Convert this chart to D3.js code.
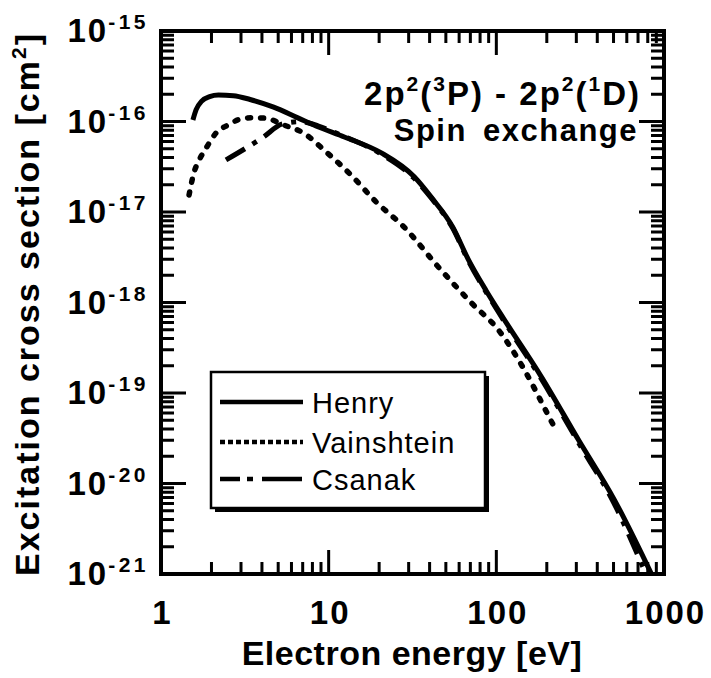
<!DOCTYPE html>
<html>
<head>
<meta charset="utf-8">
<script src="https://cdn.jsdelivr.net/npm/d3@7"></script>
<style>
  body { margin: 0; background: #fff; color: #000; }
  text { font-family: "Liberation Sans", Arial, Helvetica, sans-serif; fill: #000; }
</style>
</head>
<body>
<svg id="chart" width="711" height="678"></svg>
<script>
// values (energy in eV, cross section in cm^2)
const henryE     = [1.55, 1.62, 1.75, 1.95, 2.2, 2.7, 3.4, 4.7, 6.6, 8.7, 12.4, 20.6, 32.4, 41, 55, 68, 87, 112, 186, 310, 506, 842];
const henrySigma = [1.04e-16, 1.35e-16, 1.68e-16, 1.88e-16, 1.96e-16, 1.93e-16, 1.75e-16, 1.44e-16, 1.09e-16, 8.7e-17, 6.75e-17, 4.5e-17, 2.45e-17, 1.45e-17, 6.8e-18, 3.0e-18, 1.35e-18, 6.4e-19, 1.5e-19, 3.0e-20, 6.6e-21, 1.0e-21];

const vainE     = [1.47, 1.57, 1.69, 1.86, 2.13, 2.51, 2.92, 3.5, 4.2, 5.35, 7.04, 9.67, 13.6, 19.2, 28.2, 45.1, 71, 103, 147, 199, 219];
const vainSigma = [1.54e-17, 2.7e-17, 3.76e-17, 5.1e-17, 7.47e-17, 9.14e-17, 1.05e-16, 1.1e-16, 1.09e-16, 9.2e-17, 7.5e-17, 4.6e-17, 2.56e-17, 1.29e-17, 6.8e-18, 2.47e-18, 9.9e-19, 4.96e-19, 1.8e-19, 6.2e-20, 4.4e-20];

const csanakE     = [2.44, 3.22, 4.06, 5.3, 6.8, 8.7, 12, 20, 32, 41, 55, 68, 87, 112, 186, 310, 500, 780];
const csanakSigma = [3.76e-17, 5.1e-17, 6.7e-17, 9.4e-17, 1.0e-16, 8.9e-17, 7.0e-17, 4.5e-17, 2.4e-17, 1.42e-17, 6.6e-18, 2.9e-18, 1.3e-18, 6.1e-19, 1.42e-19, 2.8e-20, 6.2e-21, 1.0e-21];

const energyTicks = [1, 10, 100, 1000];
const sigmaExponents = [-15, -16, -17, -18, -19, -20, -21];
const legendNames = ['Henry', 'Vainshtein', 'Csanak'];

const svg = d3.select('#chart');

const x = d3.scaleLog().domain([1, 1000]).range([161, 664]);
const y = d3.scaleLog().domain([1e-21, 1e-15]).range([574, 31]);

const xMinor = [];
[1, 10, 100].forEach(d => { for (let k = 2; k <= 9; k++) xMinor.push(d * k); });
const yMinor = [];
d3.range(-21, -15).forEach(e => { for (let k = 2; k <= 9; k++) yMinor.push(k * Math.pow(10, e)); });
const yMajor = sigmaExponents.map(e => Math.pow(10, e));

const plotLeft = x.range()[0], plotRight = x.range()[1];
const plotTop = y.range()[1], plotBottom = y.range()[0];

// curves (all data lies inside the domain, no clipping needed)
const line = d3.line()
  .x(d => x(d[0]))
  .y(d => y(d[1]))
  .curve(d3.curveMonotoneX);

const plot = svg.append('g');

plot.append('path')
  .datum(d3.zip(vainE, vainSigma))
  .attr('d', line)
  .attr('fill', 'none').attr('stroke', '#000').attr('stroke-width', 5.5)
  .attr('stroke-linecap', 'round').attr('stroke-dasharray', '3,10');

plot.append('path')
  .datum(d3.zip(csanakE, csanakSigma))
  .attr('d', line)
  .attr('fill', 'none').attr('stroke', '#000').attr('stroke-width', 5)
  .attr('stroke-dasharray', '22,9,5,9');

plot.append('path')
  .datum(d3.zip(henryE, henrySigma))
  .attr('d', line)
  .attr('fill', 'none').attr('stroke', '#000').attr('stroke-width', 5)
  .attr('stroke-linejoin', 'round');

// frame
svg.append('path')
  .attr('d', `M${plotLeft},${plotTop}H${plotRight}V${plotBottom}H${plotLeft}Z`)
  .attr('fill', 'none').attr('stroke', '#000').attr('stroke-width', 4);

// inward ticks on every side, one path per group
function tickPath(vals, len, horizontal) {
  return vals.map(d => horizontal
    ? `M${x(d)},${plotBottom}v${-len}M${x(d)},${plotTop}v${len}`
    : `M${plotLeft},${y(d)}h${len}M${plotRight},${y(d)}h${-len}`).join('');
}
const tickLayer = svg.append('g');
[[xMinor, 12, true], [energyTicks, 24, true], [yMinor, 13, false], [yMajor, 25, false]]
  .forEach(([vals, len, horiz]) => {
    tickLayer.append('path')
      .attr('d', tickPath(vals, len, horiz))
      .attr('fill', 'none').attr('stroke', '#000').attr('stroke-width', 3);
  });

// tick labels
const xAxis = svg.append('g').attr('transform', `translate(0,${plotBottom})`)
  .call(d3.axisBottom(x).tickValues(energyTicks).tickSize(0).tickPadding(27).tickFormat(d => String(d)));
xAxis.select('.domain').remove();
xAxis.selectAll('text')
  .attr('font-size', 33).attr('font-weight', 'bold')
  .attr('letter-spacing', 2).attr('dx', 1);

const yAxis = svg.append('g').attr('transform', `translate(${plotLeft},0)`)
  .call(d3.axisLeft(y).tickValues(yMajor).tickSize(0).tickPadding(12).tickFormat(''));
yAxis.select('.domain').remove();
yAxis.selectAll('text')
  .attr('font-size', 33).attr('font-weight', 'bold')
  .each(function (d) {
    const t = d3.select(this);
    t.append('tspan').attr('letter-spacing', 2).text('10');
    t.append('tspan').attr('dy', -13).attr('font-size', 21).attr('letter-spacing', 3.5)
      .text(String(Math.round(Math.log10(d))));
  });

// annotation
const note = svg.append('text')
  .attr('x', 641).attr('y', 105)
  .attr('text-anchor', 'end')
  .attr('font-size', 33).attr('font-weight', 'bold')
  .attr('letter-spacing', 2);
[['2p', 0], ['2', 1], ['(', 0], ['3', 1], ['P) - 2p', 0], ['2', 1], ['(', 0], ['1', 1], ['D)', 0]]
  .forEach(([s, sup], i, arr) => {
    const prevSup = i > 0 ? arr[i - 1][1] : 0;
    const ts = note.append('tspan').text(s);
    if (sup) ts.attr('font-size', 21).attr('dy', prevSup ? 0 : -14);
    else if (prevSup) ts.attr('dy', 14);
  });

svg.append('text')
  .attr('x', 638).attr('y', 141)
  .attr('text-anchor', 'end')
  .attr('font-size', 31).attr('font-weight', 'bold')
  .attr('letter-spacing', 1.5).attr('word-spacing', 6)
  .text('Spin exchange');

// legend
const lg = svg.append('g');
lg.append('rect').attr('x', 215).attr('y', 376).attr('width', 274).attr('height', 136).attr('fill', '#000');
lg.append('rect').attr('x', 211).attr('y', 372).attr('width', 274).attr('height', 136)
  .attr('fill', '#fff').attr('stroke', '#000').attr('stroke-width', 2.5);

const legendDash = [null, '5,3', '20,7,6,9,40'];
const legendY = [402, 442, 479];
legendNames.forEach((name, i) => {
  lg.append('line')
    .attr('x1', 220).attr('x2', 303).attr('y1', legendY[i]).attr('y2', legendY[i])
    .attr('stroke', '#000').attr('stroke-width', 4.5)
    .attr('stroke-dasharray', legendDash[i]);
  lg.append('text')
    .attr('x', 312).attr('y', legendY[i] + 11)
    .attr('font-size', 29).attr('letter-spacing', 1)
    .text(name);
});

// axis titles
svg.append('text')
  .attr('x', 412).attr('y', 665)
  .attr('text-anchor', 'middle')
  .attr('font-size', 34).attr('font-weight', 'bold')
  .attr('letter-spacing', 0.5)
  .text('Electron energy [eV]');

const yt = svg.append('text')
  .attr('transform', 'translate(39,304) rotate(-90)')
  .attr('text-anchor', 'middle')
  .attr('font-size', 34).attr('font-weight', 'bold')
  .attr('letter-spacing', 2);
yt.append('tspan').text('Excitation cross section [cm');
yt.append('tspan').attr('font-size', 21).attr('dy', -13).text('2');
yt.append('tspan').attr('dy', 13).text(']');
</script>
</body>
</html>
